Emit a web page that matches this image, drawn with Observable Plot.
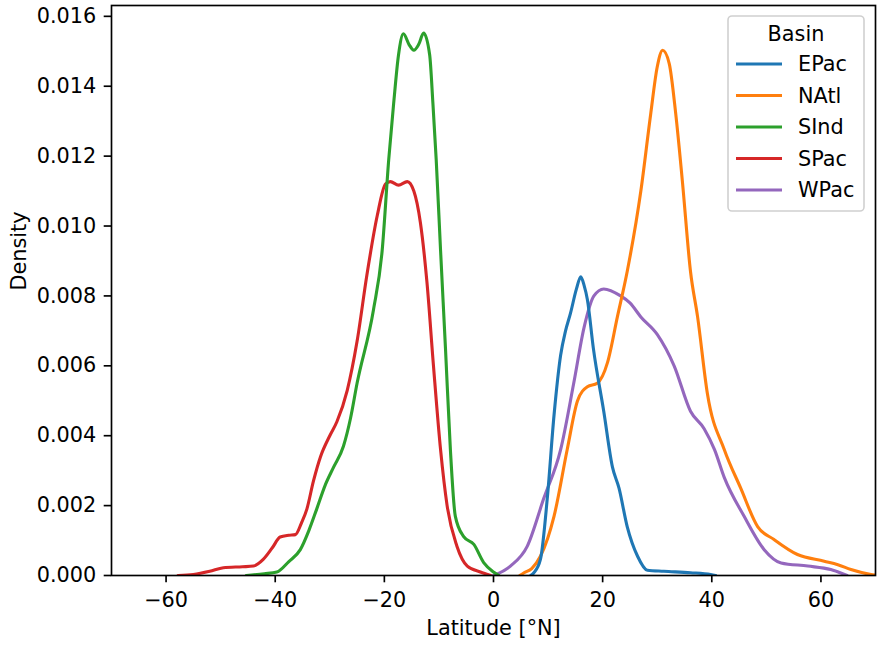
<!DOCTYPE html>
<html>
<head>
<meta charset="utf-8">
<script src="https://cdn.jsdelivr.net/npm/d3@7"></script>
<script src="https://cdn.jsdelivr.net/npm/@observablehq/plot@0.6"></script>
<style>
  html, body { margin: 0; padding: 0; background: #fff; }
  #chart { position: relative; width: 880px; height: 646px; }
</style>
</head>
<body>
<div id="chart"></div>
<script>
// Basin order (legend order) and colours
const basins = ["EPac", "NAtl", "SInd", "SPac", "WPac"];
const colors = ["#1f77b4", "#ff7f0e", "#2ca02c", "#d62728", "#9467bd"];

// KDE curves: [latitude °N, density]
const epac = [[6.8,0],[7.4,0.00008],[8.6,0.00046],[9.85,0.0022],[11.1,0.0046],[12.3,0.0063],[13.2,0.0070],[14.1,0.0075],[15.2,0.0082],[16,0.00855],[16.6,0.0083],[17.2,0.0079],[18.3,0.0065],[20.2,0.0047],[21.8,0.0031],[23,0.0025],[24.5,0.0014],[26.4,0.00055],[28.2,0.00015],[31.2,0.00012],[36.1,0.00008],[39.8,0.00003],[40.7,0]];
const natl = [[4.8,0],[5.6,0.00008],[7,0.0002],[8.6,0.00055],[11.1,0.0017],[13.5,0.0036],[15.4,0.0050],[17.2,0.0054],[19,0.0055],[20.9,0.0061],[22.7,0.0074],[24.5,0.0087],[27,0.0110],[28.8,0.0132],[30,0.01455],[31,0.01503],[32.2,0.01465],[33.4,0.0132],[34.6,0.0113],[36.1,0.0087],[37.4,0.0074],[39.2,0.0052],[42.3,0.0036],[45.3,0.0025],[48.4,0.0014],[51.4,0.00103],[55.7,0.0006],[60.6,0.00041],[63.1,0.00031],[65.5,0.00017],[69.2,0.00003],[71,0]];
const sind = [[-45.3,0],[-42,0.00005],[-39.7,0.0001],[-37.5,0.0004],[-35.4,0.00074],[-33.8,0.0013],[-32.4,0.0019],[-30.8,0.0026],[-29.3,0.0031],[-27.5,0.0037],[-26.2,0.0045],[-25,0.0055],[-22,0.0076],[-20.4,0.0093],[-19.2,0.0119],[-18.3,0.0135],[-17.4,0.0149],[-16.5,0.0155],[-15.5,0.0152],[-14.6,0.01503],[-13.7,0.0152],[-12.8,0.01552],[-11.7,0.0149],[-11.1,0.0135],[-10.5,0.0119],[-9.7,0.0093],[-8.8,0.0065],[-7.9,0.0036],[-7.0,0.0017],[-5.5,0.00112],[-3.6,0.00089],[-1.8,0.00037],[0,0.0001],[1,0]];
const spac = [[-57.8,0],[-55,0.00003],[-52,0.00012],[-49.5,0.00022],[-46,0.00025],[-44,0.00027],[-42.2,0.00046],[-40.5,0.0008],[-39.1,0.0011],[-37.5,0.00115],[-36.3,0.00117],[-35.2,0.0015],[-34.2,0.0019],[-33,0.0027],[-31.7,0.0034],[-30,0.0040],[-28.7,0.0044],[-26.8,0.0053],[-25,0.0067],[-23.2,0.0086],[-21.3,0.0103],[-19.8,0.0112],[-18.9,0.01127],[-17.4,0.01117],[-15.8,0.01127],[-14.6,0.0110],[-13.4,0.0101],[-12.2,0.0084],[-11,0.0060],[-9.7,0.0036],[-8.5,0.0020],[-6.7,0.00084],[-4.8,0.00027],[-2.4,0.0001],[-0.5,0]];
const wpac = [[0,0],[3.1,0.00027],[6.2,0.00084],[9.2,0.0022],[12.3,0.0036],[14.7,0.0055],[16.6,0.0071],[18.4,0.0080],[20.2,0.0082],[23.3,0.0080],[25,0.0078],[27,0.0074],[30,0.0069],[33.1,0.0060],[36.1,0.0047],[38.6,0.0042],[40.5,0.0036],[42.3,0.0028],[45.9,0.0017],[49.6,0.00074],[52.7,0.00036],[57.6,0.00027],[61.8,0.00017],[64.8,0]];

const xTicks = [-60, -40, -20, 0, 20, 40, 60];
const yTicks = [0, 0.002, 0.004, 0.006, 0.008, 0.010, 0.012, 0.014, 0.016];
const xLabel = "Latitude [°N]";
const yLabel = "Density";
const legendTitle = "Basin";

const curves = {EPac: epac, NAtl: natl, SInd: sind, SPac: spac, WPac: wpac};
// drawing order as in seaborn (reverse hue order)
const drawOrder = [...basins].reverse();
const rows = drawOrder.flatMap(b => curves[b].map(([lat, d]) => ({basin: b, lat, d})));

const W = 880, H = 646;
const FONT = "DejaVu Sans, sans-serif";
const FS = 20.8;

const chart = Plot.plot({
  width: W,
  height: H,
  marginLeft: 111,
  marginRight: 5,
  marginTop: 5,
  marginBottom: 71,
  style: {fontFamily: FONT, fontSize: FS + "px", color: "#000", background: "#fff", overflow: "visible"},
  x: {domain: [-70, 70], ticks: xTicks, label: null},
  y: {domain: [0, 0.01631], ticks: yTicks, label: null},
  color: {domain: basins, range: colors},
  marks: [
    Plot.line(rows, {x: "lat", y: "d", z: "basin", stroke: "basin", strokeWidth: 3.1, curve: "monotone-x", clip: true}),
    Plot.frame({stroke: "#000", strokeWidth: 1.67}),
    Plot.axisX({ticks: xTicks, tickSize: 7.3, tickPadding: 9, strokeWidth: 1.67, label: null, fontSize: FS}),
    Plot.axisY({ticks: yTicks, tickSize: 7.3, tickPadding: 8, strokeWidth: 1.67, tickFormat: d3.format(".3f"), label: null, fontSize: FS}),
    Plot.text([xLabel], {text: d => d, frameAnchor: "bottom", dy: 53, lineAnchor: "middle", fontSize: FS}),
    Plot.text([yLabel], {text: d => d, frameAnchor: "left", dx: -92, rotate: -90, lineAnchor: "middle", fontSize: FS})
  ]
});

document.getElementById("chart").appendChild(chart);

// Legend (matplotlib style, upper right inside axes)
const svg = d3.select(chart);
const lg = svg.append("g").attr("font-family", FONT).attr("font-size", FS);
lg.append("rect").attr("x", 728).attr("y", 16).attr("width", 136).attr("height", 195)
  .attr("rx", 4).attr("fill", "#fff").attr("fill-opacity", 0.8)
  .attr("stroke", "#d0d0d0").attr("stroke-width", 1.6);
lg.append("text").attr("x", 796).attr("y", 34).attr("dy", "0.35em")
  .attr("text-anchor", "middle").attr("fill", "#000").text(legendTitle);
basins.forEach((b, i) => {
  const y = 64 + i * 31.5;
  lg.append("line").attr("x1", 736).attr("x2", 782).attr("y1", y).attr("y2", y)
    .attr("stroke", colors[i]).attr("stroke-width", 3.1);
  lg.append("text").attr("x", 798).attr("y", y).attr("dy", "0.35em")
    .attr("text-anchor", "start").attr("fill", "#000").text(b);
});
</script>
</body>
</html>
